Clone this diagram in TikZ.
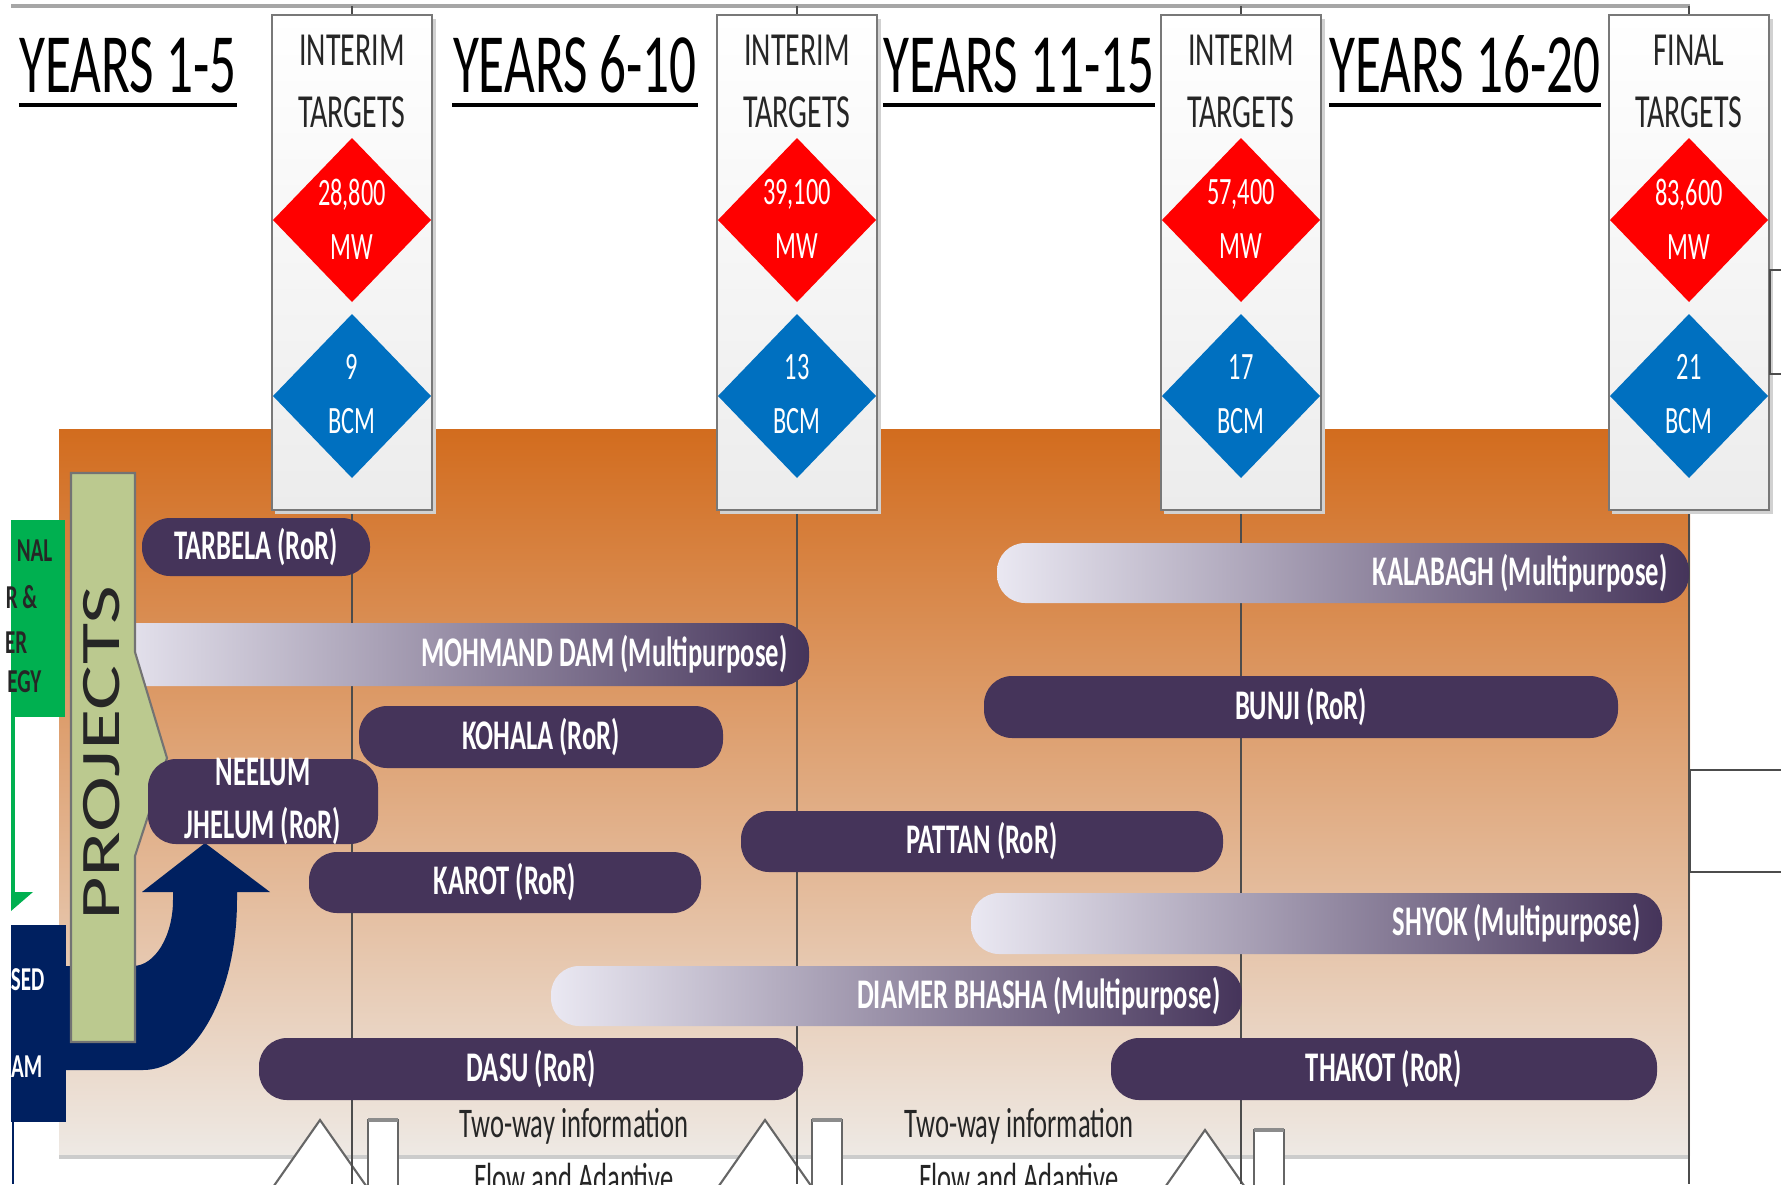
\documentclass[tikz,border=0pt]{standalone}
\usepackage{fontspec}
\setmainfont{Carlito}
\newfontfamily\narrowfont[FakeStretch=0.63]{Carlito}
\usepackage{graphicx}
\usepackage{tikz}

\definecolor{bardark}{RGB}{69,52,90}
\definecolor{mplight}{RGB}{234,232,242}
\definecolor{paneltop}{RGB}{210,108,30}
\definecolor{panelbot}{RGB}{238,233,228}
\definecolor{tgtred}{RGB}{255,0,0}
\definecolor{tgtblue}{RGB}{0,112,192}
\definecolor{projgreen}{RGB}{187,201,143}
\definecolor{stratgreen}{RGB}{0,176,80}
\definecolor{deepnavy}{RGB}{0,32,96}
\definecolor{boxgray}{RGB}{236,236,236}
\definecolor{boxline}{RGB}{120,120,120}

\tikzset{
	bartext/.style={text=white,inner sep=0pt,align=center,font=\narrowfont\bfseries\fontsize{12}{14.8}\selectfont},
	yeartext/.style={inner sep=0pt,anchor=base,font=\narrowfont\fontsize{24}{28}\selectfont},
	boxtext/.style={inner sep=0pt,align=center,text=black!85,font=\narrowfont\fontsize{13.5}{17.6}\selectfont},
	diatext/.style={inner sep=0pt,align=center,text=white,font=\narrowfont\fontsize{11}{15.4}\selectfont},
	sidetext/.style={inner sep=0pt,anchor=east,font=\narrowfont\bfseries\fontsize{9.5}{11}\selectfont},
	infotext/.style={inner sep=0pt,anchor=base,text=black!85,font=\narrowfont\fontsize{12}{14}\selectfont},
	vline/.style={draw=black!70,line width=0.6pt}
}

\def\rorbar(#1,#2,#3,#4)#5#6{\fill[bardark,rounded corners=0.28cm] (#1,#2) rectangle (#3,#4);
	\node[bartext] (#5) at ({(#1+#3)/2},{(#2+#4)/2}) {#6};}
\def\mpbar(#1,#2,#3,#4)#5#6{\shade[left color=mplight,right color=bardark,rounded corners=0.28cm] (#1,#2) rectangle (#3,#4);
	\node[bartext,anchor=east] (#5) at (#3-21,{(#2+#4)/2}) {#6};}
\def\tgtbox(#1)#2#3#4#5{\fill[black!18] (#1-77,19) rectangle (#1+84,514);
	\shadedraw[top color=white,bottom color=boxgray,draw=boxline,line width=0.6pt] (#1-80,15) rectangle (#1+80,510);
	\fill[tgtred] (#1,138) -- (#1+79,220) -- (#1,302) -- (#1-79,220) -- cycle;
	\fill[tgtblue] (#1,314) -- (#1+79,396) -- (#1,478) -- (#1-79,396) -- cycle;
	\node[boxtext] (#2t) at (#1,81) {#3};
	\node[diatext] (#2m) at (#1,219) {#4\\MW};
	\node[diatext] (#2b) at (#1,394) {#5\\BCM};}

\begin{document}
\begin{tikzpicture}[x=0.01cm,y=-0.01cm]
			%%%%% START %%%%%
			\useasboundingbox (0,0) rectangle (1781,1184);
			\clip (0,0) rectangle (1781,1184);
			
			\shade[top color=paneltop,bottom color=panelbot] (59,429) rectangle (1690,1155);
			\draw[black!20,line width=1.2pt] (59,1157) -- (1690,1157);
			\draw[black!35,line width=1pt] (11,6) -- (1690,6);
			
			\foreach \ax/\ay/\rx in {320/1120/368, 765/1120/812, 1205/1130/1254}{
				\draw[black!60,fill=white,line width=0.6pt] (\ax,\ay) -- (\ax+56,\ay+80) -- (\ax-56,\ay+80) -- cycle;
				\draw[black!60,fill=white,line width=0.6pt] (\rx,\ay) rectangle (\rx+30,\ay+80);
				\draw[black!45,line width=1.2pt] (\rx,\ay) -- (\rx+30,\ay);
			}
			\node[infotext] (info1) at (574,1137) {Two-way information};
			\node[infotext] (info2) at (1019,1137) {Two-way information};
			\node[infotext] (flow1) at (574,1192) {Flow and Adaptive};
			\node[infotext] (flow2) at (1019,1192) {Flow and Adaptive};
			
			\foreach \cx in {352,797,1241,1689} \draw[vline] (\cx,6) -- (\cx,1184);
			
			\rorbar(142,518,370,576){tarbela}{TARBELA (RoR)}
			\mpbar(100,623,809,686){mohmand}{MOHMAND DAM (Multipurpose)}
			\rorbar(359,706,723,768){kohala}{KOHALA (RoR)}
			\rorbar(309,852,701,913){karot}{KAROT (RoR)}
			\rorbar(259,1038,803,1100){dasu}{DASU (RoR)}
			\rorbar(741,811,1223,872){pattan}{PATTAN (RoR)}
			\mpbar(551,966,1242,1026){diamer}{DIAMER BHASHA (Multipurpose)}
			\mpbar(997,543,1689,603){kalabagh}{KALABAGH (Multipurpose)}
			\rorbar(984,676,1618,738){bunji}{BUNJI (RoR)}
			\mpbar(971,893,1662,954){shyok}{SHYOK (Multipurpose)}
			\rorbar(1111,1038,1657,1100){thakot}{THAKOT (RoR)}
			
			\fill[stratgreen] (11,520) rectangle (65,717);
			\fill[stratgreen] (11,717) rectangle (15,893);
			\fill[stratgreen] (11,892) -- (33,892) -- (11,911) -- cycle;
			\node[sidetext,text=black!85] (str1) at (53,551) {NAL};
			\node[sidetext,text=black!85] (str2) at (38,597) {R \&};
			\node[sidetext,text=black!85] (str3) at (28,643) {ER};
			\node[sidetext,text=black!85] (str4) at (42,682) {EGY};
			
			\fill[deepnavy] (11,925) rectangle (66,1122);
			\draw[deepnavy,line width=0.8pt] (13,1122) -- (13,1184);
			\node[sidetext,text=white] (prog1) at (45,980) {SED};
			\node[sidetext,text=white] (prog2) at (43,1067) {AM};
			\fill[deepnavy] (64,966) -- (133,966) .. controls (155,966) and (173,936) .. (173,900) -- (173,892) -- (142,892) -- (205,843) -- (270,892) -- (237,892) -- (237,900) .. controls (237,994) and (195,1070) .. (143,1070) -- (64,1070) -- cycle;
			
			\filldraw[fill=projgreen,draw=black!55,line width=0.6pt] (71,473) -- (135,473) -- (135,652) -- (167,758) -- (135,856) -- (135,1042) -- (71,1042) -- cycle;
			\node[rotate=90,text=black!85,inner sep=0pt] (projects) at (102,753) {\scalebox{1}[0.66]{\fontsize{24}{24}\selectfont PROJECTS}};
			\rorbar(148,759,378,844){neelum}{NEELUM\\JHELUM (RoR)}
			
			\tgtbox(352){t1}{INTERIM\\TARGETS}{28,800}{9}
			\tgtbox(797){t2}{INTERIM\\TARGETS}{39,100}{13}
			\tgtbox(1241){t3}{INTERIM\\TARGETS}{57,400}{17}
			\tgtbox(1689){t4}{FINAL\\TARGETS}{83,600}{21}
			
			\node[yeartext] (yr1) at (128,92) {YEARS 1-5};
			\node[yeartext] (yr2) at (575,92) {YEARS 6-10};
			\node[yeartext] (yr3) at (1019,92) {YEARS 11-15};
			\node[yeartext] (yr4) at (1465,92) {YEARS 16-20};
			\foreach \yr in {yr1,yr2,yr3,yr4} \draw[line width=1.2pt] ([yshift=-3.7pt]\yr.base west) -- ([yshift=-3.7pt]\yr.base east);
			
			\draw[black!70,line width=0.6pt] (1781,270) -- (1770,270) -- (1770,374) -- (1781,374);
			\draw[black!70,line width=0.6pt] (1781,770) -- (1690,770) -- (1690,872) -- (1781,872);
			%%%%% END %%%%%
\end{tikzpicture}
\end{document}
